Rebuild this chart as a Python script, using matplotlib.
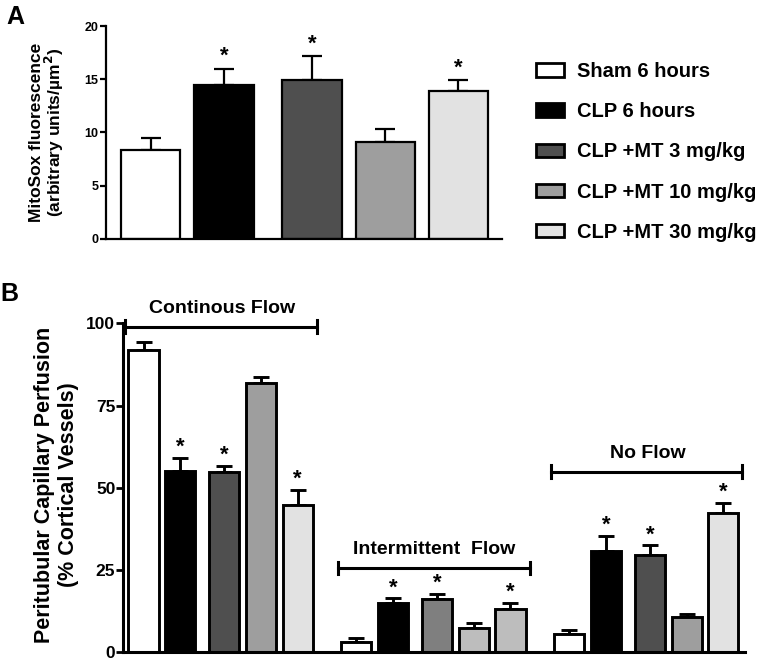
import numpy as np
import matplotlib
matplotlib.use("Agg")
import matplotlib.pyplot as plt
from matplotlib.patches import Patch

plt.rcParams["font.family"] = ["Liberation Sans", "DejaVu Sans"]
plt.rcParams["font.weight"] = "bold"

groups = ["Sham 6 hours", "CLP 6 hours", "CLP +MT 3 mg/kg", "CLP +MT 10 mg/kg", "CLP +MT 30 mg/kg"]
colors = ["#ffffff", "#000000", "#4f4f4f", "#9e9e9e", "#e2e2e2"]
colors_intermittent = ["#ffffff", "#000000", "#7f7f7f", "#bdbdbd", "#bdbdbd"]

# panel A: MitoSox fluorescence
mitosox_mean = [8.4, 14.45, 14.9, 9.15, 13.9]
mitosox_err = [1.1, 1.55, 2.3, 1.15, 1.0]
mitosox_sig = [False, True, True, False, True]

# panel B: peritubular capillary perfusion (% cortical vessels)
flow_types = ["Continous Flow", "Intermittent  Flow", "No Flow"]
continuous_mean = [91.9, 55.0, 54.8, 82.0, 44.9]
continuous_err = [2.4, 4.2, 1.9, 1.8, 4.4]
intermittent_mean = [3.2, 15.1, 16.1, 7.5, 13.1]
intermittent_err = [1.2, 1.3, 1.7, 1.3, 2.0]
noflow_mean = [5.6, 30.8, 29.6, 10.8, 42.4]
noflow_err = [1.2, 4.6, 2.9, 1.0, 3.1]
perfusion_sig = [False, True, True, False, True]
bracket_y = [99.0, 25.7, 54.9]

pos = np.array([0, 1, 2.2, 3.2, 4.2])
group_offset = 5.8

fig = plt.figure(figsize=(7.72, 6.67), dpi=100)

# ---- panel A ----
axA = fig.add_axes([0.1373, 0.6417, 0.5126, 0.3193])
axA.bar(pos, mitosox_mean, width=0.81, color=colors, edgecolor="black", linewidth=1.6, zorder=2)
axA.errorbar(pos, mitosox_mean, yerr=[np.zeros(5), mitosox_err], fmt="none",
             ecolor="black", elinewidth=1.6, capsize=7.5, capthick=1.6, zorder=1)
for x, m, e, s in zip(pos, mitosox_mean, mitosox_err, mitosox_sig):
    if s:
        axA.annotate("*", (x, m + e), xytext=(0, 1), textcoords="offset points",
                     ha="center", va="bottom", fontsize=16, fontweight="bold")
axA.set_xlim(-0.61, 4.79)
axA.set_ylim(0, 20)
axA.set_yticks([0, 5, 10, 15, 20])
axA.set_xticks([])
for sp in ["top", "right"]:
    axA.spines[sp].set_visible(False)
for sp in ["left", "bottom"]:
    axA.spines[sp].set_linewidth(1.6)
axA.tick_params(axis="y", length=4.3, width=1.6, labelsize=9, pad=1)
axA.set_ylabel("MitoSox fluorescence\n(arbitrary units/µm$^\\mathbf{2}$)", fontsize=12.5,
               fontweight="bold", linespacing=0.95)
axA.yaxis.set_label_coords(-0.101, 0.5)
fig.text(0.008, 0.993, "A", fontsize=18, fontweight="bold", va="top")

handles = [Patch(facecolor=c, edgecolor="black", linewidth=2) for c in colors]
fig.legend(handles, groups, loc="upper left", bbox_to_anchor=(0.671, 0.934),
           frameon=False, prop={"size": 14.5, "weight": "bold"},
           handlelength=1.39, handleheight=0.65, labelspacing=1.05, handletextpad=0.65)

# ---- panel B ----
axB = fig.add_axes([0.1593, 0.0220, 0.8057, 0.4933])
sets = [(continuous_mean, continuous_err, colors),
        (intermittent_mean, intermittent_err, colors_intermittent),
        (noflow_mean, noflow_err, colors)]
for g, (means, errs, cols) in enumerate(sets):
    x = pos + g * group_offset
    axB.bar(x, means, width=0.82, color=cols, edgecolor="black", linewidth=2.1, zorder=2)
    axB.errorbar(x, means, yerr=[np.zeros(5), errs], fmt="none", ecolor="black",
                 elinewidth=2.1, capsize=6, capthick=2.1, zorder=1)
    for xi, m, e, s in zip(x, means, errs, perfusion_sig):
        if s:
            axB.annotate("*", (xi, m + e), xytext=(0, 0), textcoords="offset points",
                         ha="center", va="bottom", fontsize=16, fontweight="bold")
    x0 = g * group_offset - 0.5
    x1 = g * group_offset + 4.72
    yb = bracket_y[g]
    axB.plot([x0, x1], [yb, yb], color="black", lw=2.2, clip_on=False)
    axB.plot([x0, x0], [yb - 1.9, yb + 1.9], color="black", lw=2.2, clip_on=False)
    axB.plot([x1, x1], [yb - 1.9, yb + 1.9], color="black", lw=2.2, clip_on=False)
    axB.text(g * group_offset + 2.13, yb + 3.0, flow_types[g], ha="center", va="bottom",
             fontsize=14, fontweight="bold", clip_on=False)

axB.set_xlim(-0.56, 16.39)
axB.set_ylim(0, 100)
axB.set_yticks([0, 25, 50, 75, 100])
axB.set_xticks([])
for sp in ["top", "right"]:
    axB.spines[sp].set_visible(False)
for sp in ["left", "bottom"]:
    axB.spines[sp].set_linewidth(2.2)
axB.tick_params(axis="y", length=5, width=2, labelsize=12.5, pad=0.5)
axB.set_ylabel("Peritubular Capillary Perfusion\n(% Cortical Vessels)", fontsize=15.5,
               fontweight="bold", linespacing=1.15)
axB.yaxis.set_label_coords(-0.071, 0.51)
fig.text(0.0, 0.577, "B", fontsize=18, fontweight="bold", va="top")

fig.savefig("out.png", dpi=100)
